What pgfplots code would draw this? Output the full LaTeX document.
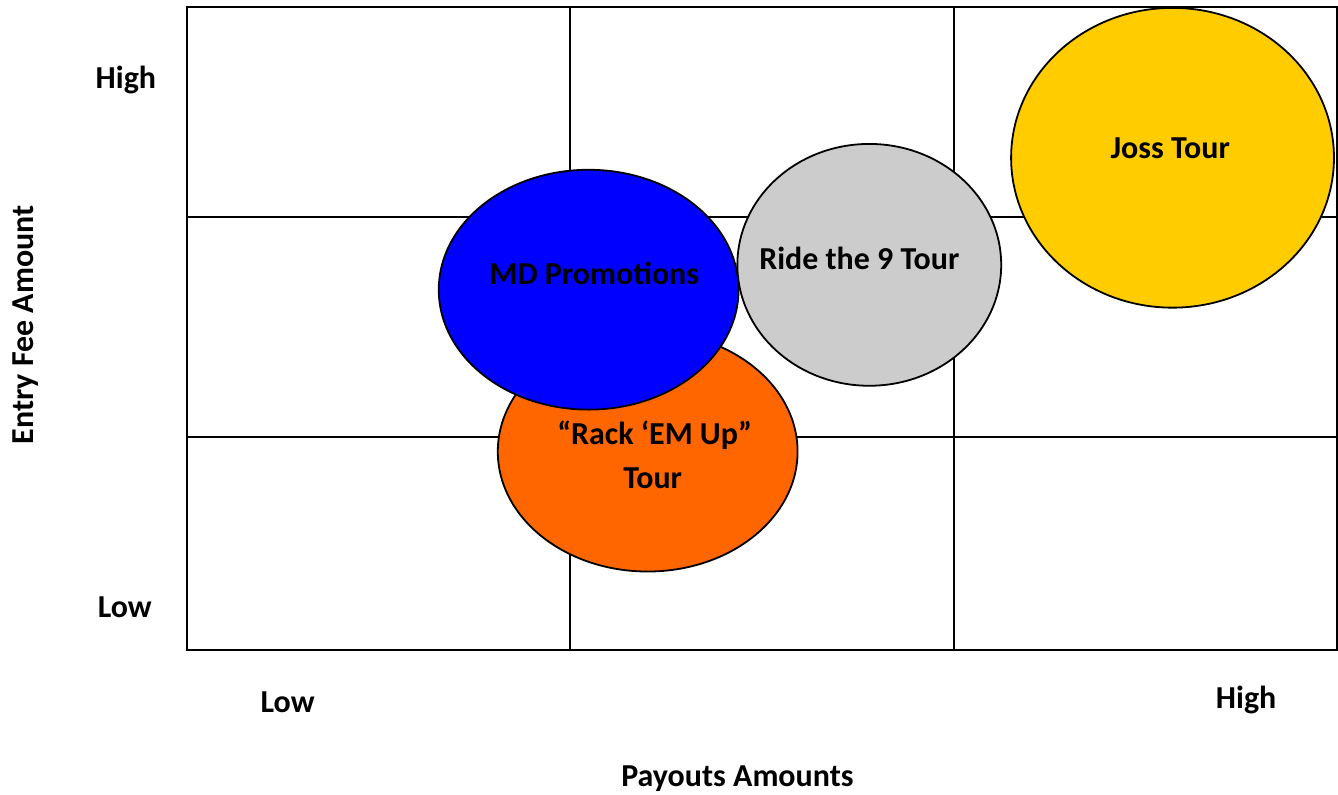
\documentclass[border=0pt]{standalone}
\usepackage{fontspec}
\setmainfont{Carlito}
\usepackage{pgfplots}
\pgfplotsset{compat=1.18}

\definecolor{mdblue}{HTML}{0000FF}
\definecolor{rackorange}{HTML}{FF6600}
\definecolor{ridegray}{HTML}{CCCCCC}
\definecolor{jossgold}{HTML}{FFCC00}

\begin{document}
\begin{tikzpicture}[lbl/.style={font=\fontsize{16}{19}\selectfont\bfseries, anchor=base, inner sep=0pt}]
\begin{axis}[
  name=ax,
  scale only axis,
  width=575.5pt, height=321.5pt,
  xmin=0, xmax=3, ymin=0, ymax=3,
  xtick={1,2}, ytick={0.994,2.02},
  xticklabels={}, yticklabels={},
  major tick length=0pt,
  grid=major, grid style={black, line width=1pt},
  axis line style={black, line width=1pt},
  clip=false]
  % bubbles: (payout, entry fee), radii in pt
  \addplot[only marks, mark=*, mark size=60pt,
    mark options={xscale=1.25, fill=rackorange, draw=black, line width=0.9pt}]
    coordinates {(1.202,0.924)};
  \addplot[only marks, mark=*, mark size=60pt,
    mark options={xscale=1.25, fill=mdblue, draw=black, line width=0.9pt}]
    coordinates {(1.048,1.680)};
  \addplot[only marks, mark=*, mark size=60.5pt,
    mark options={xscale=1.091, fill=ridegray, draw=black, line width=0.9pt}]
    coordinates {(1.780,1.796)};
  \addplot[only marks, mark=*, mark size=75pt,
    mark options={xscale=1.077, fill=jossgold, draw=black, line width=0.9pt}]
    coordinates {(2.571,2.296)};

  % label positions, set after the axis so they sit above the bubbles
  \coordinate (mdl) at (axis cs:1.063,1.703);
  \coordinate (rackl) at (axis cs:1.220,0.957);
  \coordinate (tourl) at (axis cs:1.215,0.752);
  \coordinate (ridel) at (axis cs:1.754,1.773);
  \coordinate (jossl) at (axis cs:2.565,2.291);

  \node[lbl] at (axis cs:-0.159,2.618) {High};
  \node[lbl] at (axis cs:-0.162,0.150) {Low};
  \node[lbl] at (axis cs:0.263,-0.294) {Low};
  \node[lbl] at (axis cs:2.763,-0.275) {High};
  \node[lbl] at (axis cs:1.436,-0.639) {Payouts Amounts};
  \node[lbl, rotate=90] at (axis cs:-0.399,1.516) {Entry Fee Amount};
\end{axis}
\node[lbl] at (mdl) {MD Promotions};
\node[lbl] at (rackl) {“Rack ‘EM Up”};
\node[lbl] at (tourl) {Tour};
\node[lbl] at (ridel) {Ride the 9 Tour};
\node[lbl] at (jossl) {Joss Tour};
\path[use as bounding box] ([xshift=-93.5pt,yshift=-72.5pt]ax.south west)
  rectangle ([xshift=0.5pt,yshift=3.5pt]ax.north east);
\end{tikzpicture}
\end{document}
